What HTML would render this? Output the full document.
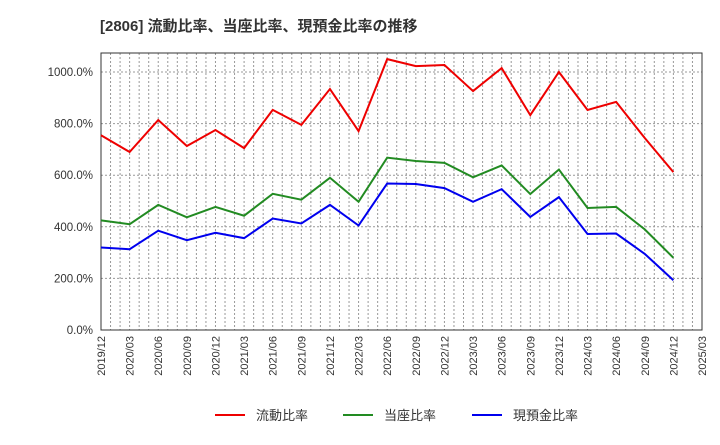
<!DOCTYPE html>
<html><head><meta charset="utf-8"><style>
body{margin:0;background:#fff;}
svg text{font-family:"Liberation Sans","Noto Sans CJK JP",sans-serif;}
</style></head><body>
<svg width="720" height="440" xmlns="http://www.w3.org/2000/svg">
<text x="100" y="31" font-size="15" font-weight="bold" fill="#333">[2806]  流動比率、当座比率、現預金比率の推移</text>
<g id="grid"></g>
<g id="axes"></g>
<g id="series"></g>
<g id="legend"></g>
</svg>
<script>
const xLabels=["2019/12","2020/03","2020/06","2020/09","2020/12","2021/03","2021/06","2021/09","2021/12","2022/03","2022/06","2022/09","2022/12","2023/03","2023/06","2023/09","2023/12","2024/03","2024/06","2024/09","2024/12","2025/03"];
const yTicks=[0,200,400,600,800,1000];
const current=[755,690,814,713,775,705,853,795,934,771,1050,1023,1027,926,1015,833,1000,853,884,744,612];
const quick=[425,410,485,437,477,443,528,505,590,497,668,655,648,592,638,527,622,473,477,390,280];
const cash=[320,313,385,348,377,356,432,413,485,405,568,566,550,497,546,438,515,372,374,295,193];
const names=["流動比率","当座比率","現預金比率"];
const colors=["#ee0000","#228b22","#0000ee"];
const L=101,R=702,T=53,B=330;
const xs=i=>L+i*(R-L)/21;
const ys=v=>B-v*(B-72)/1000;
const ns="http://www.w3.org/2000/svg";
function mk(t,a,p){const e=document.createElementNS(ns,t);for(const k in a)e.setAttribute(k,a[k]);p.appendChild(e);return e;}
const g=document.getElementById('grid');
for(let m=1;m<63;m++){const x=L+m*(R-L)/63;const l=mk('line',{x1:x,x2:x,y1:T,y2:B,stroke:'#999','stroke-dasharray':'2,2','stroke-width':1},g);}
yTicks.forEach(v=>{if(v>0){const l=mk('line',{x1:L,x2:R,y1:ys(v),y2:ys(v),stroke:'#999','stroke-dasharray':'2,2'},g);}});
const a=document.getElementById('axes');
const fr=mk('rect',{x:L,y:T,width:R-L,height:B-T,fill:'none',stroke:'#333'},a);

yTicks.forEach(v=>{const t=mk('text',{x:L-8,y:ys(v)+4,'font-size':11.5,'text-anchor':'end',fill:'#333'},a);t.textContent=v.toFixed(1)+'%';});
xLabels.forEach((s,i)=>{const x=xs(i);const t=mk('text',{x:x+4,y:B+6,'font-size':11,'text-anchor':'end',fill:'#333',transform:`rotate(-90 ${x+4} ${B+6})`},a);t.textContent=s;});
const sg=document.getElementById('series');
[current,quick,cash].forEach((d,k)=>{const p=mk('polyline',{points:d.map((v,i)=>xs(i)+','+ys(v)).join(' '),fill:'none',stroke:colors[k],'stroke-width':2},sg);});
const lg=document.getElementById('legend');
const lx=[215,343,472];
names.forEach((n,k)=>{const ln=mk('line',{x1:lx[k],x2:lx[k]+30,y1:415,y2:415,stroke:colors[k],'stroke-width':2},lg);const t=mk('text',{x:lx[k]+41,y:420,'font-size':13,fill:'#333'},lg);t.textContent=n;});
</script>
</body></html>
